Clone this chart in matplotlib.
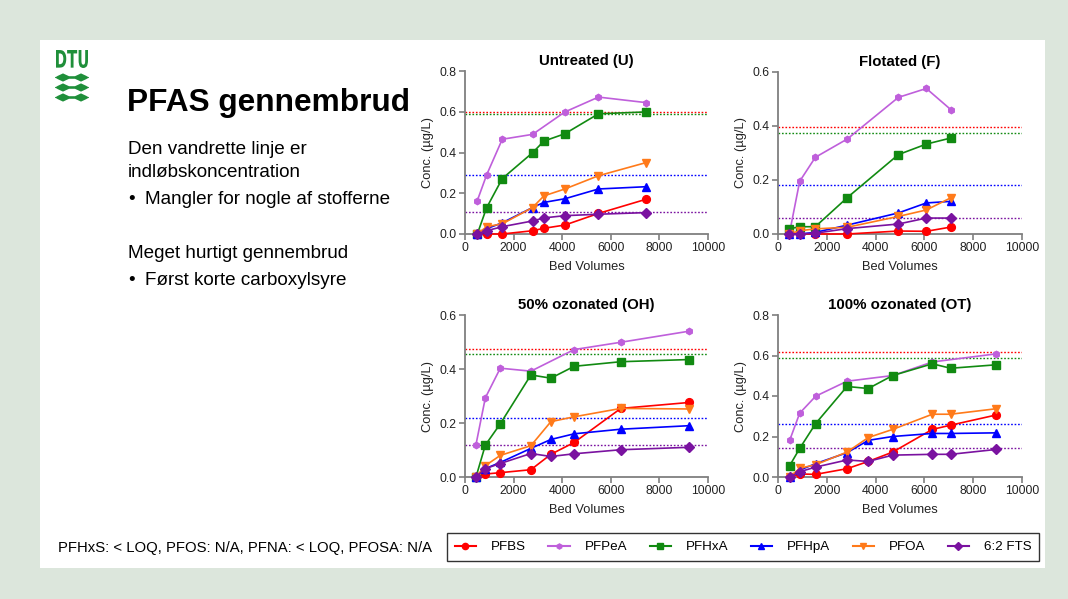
import numpy as np
import matplotlib
matplotlib.use("Agg")
import matplotlib.pyplot as plt
from matplotlib.patches import Rectangle, Polygon, PathPatch
from matplotlib.textpath import TextPath
from matplotlib.font_manager import FontProperties
from matplotlib.transforms import Affine2D
from matplotlib.lines import Line2D

plt.rcParams['font.family'] = ['Liberation Sans', 'DejaVu Sans']

# ---- data ----
compounds = ['PFBS', 'PFPeA', 'PFHxA', 'PFHpA', 'PFOA', '6:2 FTS']

# Untreated (U)
u_bv = [507, 890, 1534, 2781, 3247, 4110, 5493, 7438]
u_pfbs = [0, 0, 0, 0.016, 0.028, 0.044, 0.101, 0.17]
u_pfpea = [0.164, 0.29, 0.465, 0.489, None, 0.599, 0.672, 0.645]
u_pfhxa = [0, 0.129, 0.272, 0.399, 0.456, 0.492, 0.59, 0.599]
u_pfhpa = [0, 0.026, 0.055, 0.13, 0.155, 0.173, 0.221, 0.232]
u_pfoa = [0, 0.036, 0.05, 0.13, 0.187, 0.221, 0.286, 0.35]
u_fts = [0, 0.016, 0.036, 0.064, 0.079, 0.09, 0.097, 0.105]
u_inlet = [0.6, None, 0.587, 0.29, None, 0.11]

# Flotated (F)
f_bv = [464, 888, 1530, 2842, 4932, 6079, 7104]
f_pfbs = [0, 0, 0, 0, 0.011, 0.01, 0.026]
f_pfpea = [0, 0.195, 0.284, 0.352, 0.506, 0.539, 0.459]
f_pfhxa = [0.019, 0.027, 0.027, 0.135, 0.294, 0.333, 0.356]
f_pfhpa = [0, 0, 0.006, 0.033, 0.078, 0.115, 0.121]
f_pfoa = [0, 0.012, 0.019, 0.025, 0.065, 0.089, 0.135]
f_fts = [0, 0, 0.003, 0.02, 0.037, 0.059, 0.059]
f_inlet = [0.395, None, 0.373, 0.183, None, 0.06]

# 50% ozonated (OH)
oh_bv = [452, 836, 1452, 2712, 3534, 4493, 6411, 9219]
oh_pfbs = [0, 0.011, 0.016, 0.027, 0.084, 0.128, 0.254, 0.276]
oh_pfpea = [0.12, 0.293, 0.403, 0.392, None, 0.472, 0.499, 0.54]
oh_pfhxa = [0, 0.118, 0.197, 0.378, 0.366, 0.41, 0.427, 0.435]
oh_pfhpa = [0, 0.031, 0.054, 0.106, 0.139, 0.16, 0.177, 0.19]
oh_pfoa = [0, 0.042, 0.08, 0.116, 0.205, 0.223, 0.254, 0.252]
oh_fts = [0, 0.031, 0.05, 0.087, 0.076, 0.086, 0.101, 0.11]
oh_inlet = [0.475, None, 0.455, 0.218, None, 0.12]

# 100% ozonated (OT)
ot_bv = [478, 888, 1544, 2828, 3702, 4699, 6325, 7077, 8934]
ot_pfbs = [0, 0.015, 0.013, 0.041, 0.077, 0.123, 0.235, 0.256, 0.306]
ot_pfpea = [0.181, 0.315, 0.399, 0.473, None, 0.501, 0.568, None, 0.608]
ot_pfhxa = [0.056, 0.141, 0.264, 0.447, 0.437, 0.501, 0.559, 0.537, 0.554]
ot_pfhpa = [0, 0.034, 0.066, 0.12, 0.181, 0.2, 0.215, 0.215, 0.218]
ot_pfoa = [0, 0.043, 0.061, 0.123, 0.195, 0.235, 0.31, 0.31, 0.337]
ot_fts = [0, 0.026, 0.049, 0.084, 0.077, 0.108, 0.112, 0.112, 0.136]
ot_inlet = [0.615, None, 0.59, 0.262, None, 0.142]

colors = ['#ff0000', '#bf5fdb', '#118a11', '#0000ff', '#ff7a1a', '#7a12a0']
markers = ['o', 'h', 's', '^', 'v', 'D']
msizes = [5.6, 4.6, 5.2, 5.4, 5.4, 4.8]

W, H = 1068, 599
fig = plt.figure(figsize=(W / 100, H / 100), dpi=100, facecolor='#dce6dc')

# overlay in pixel coordinates (y downwards)
ov = fig.add_axes([0, 0, 1, 1], zorder=0)
ov.set_xlim(0, W)
ov.set_ylim(H, 0)
ov.axis('off')
ov.add_patch(Rectangle((40, 40), 1005, 528, facecolor='white', edgecolor='none'))

# DTU logo
dtu_green = '#1f8f3a'
tp = TextPath((0, 0), 'DTU', size=10, prop=FontProperties(family='DejaVu Sans', weight='bold'))
bb = tp.get_extents()
sx = 32 / bb.width
sy = 18 / bb.height
tr = Affine2D().translate(-bb.x0, -bb.y0).scale(sx, -sy).translate(56, 68)
ov.add_patch(PathPatch(tr.transform_path(tp), facecolor=dtu_green, edgecolor='none'))
xs = np.linspace(55, 89, 120)
for yc in [77.5, 87.5, 97.5]:
    prof = 1.3 + 2.8 * np.maximum(0, 1 - np.abs(xs - 63) / 6) + 2.8 * np.maximum(0, 1 - np.abs(xs - 81) / 6)
    prof = prof * np.minimum(1, (np.minimum(xs - 55, 89 - xs) + 0.6) / 3)
    pts = np.concatenate([np.column_stack([xs, yc - prof]), np.column_stack([xs[::-1], yc + prof[::-1]])])
    ov.add_patch(Polygon(pts, closed=True, facecolor=dtu_green, edgecolor='none'))

# slide text
ov.text(127, 111, 'PFAS gennembrud', fontsize=22.8, fontweight='bold', va='baseline', color='black')
ov.text(128, 154, 'Den vandrette linje er', fontsize=13.6, va='baseline')
ov.text(128, 177, 'indløbskoncentration', fontsize=13.6, va='baseline')
ov.text(128, 204, '•', fontsize=13.6, va='baseline')
ov.text(145, 204, 'Mangler for nogle af stofferne', fontsize=13.6, va='baseline')
ov.text(128, 258, 'Meget hurtigt gennembrud', fontsize=13.6, va='baseline')
ov.text(128, 285, '•', fontsize=13.6, va='baseline')
ov.text(145, 285, 'Først korte carboxylsyre', fontsize=13.6, va='baseline')
ov.text(58, 548, 'PFHxS: < LOQ, PFOS: N/A, PFNA: < LOQ, PFOSA: N/A', fontsize=10.7, va='center')

panels = [
    ('Untreated (U)', u_bv, [u_pfbs, u_pfpea, u_pfhxa, u_pfhpa, u_pfoa, u_fts], u_inlet, 0.8, (465, 708, 71, 234)),
    ('Flotated (F)', f_bv, [f_pfbs, f_pfpea, f_pfhxa, f_pfhpa, f_pfoa, f_fts], f_inlet, 0.6, (778, 1022, 72, 234)),
    ('50% ozonated (OH)', oh_bv, [oh_pfbs, oh_pfpea, oh_pfhxa, oh_pfhpa, oh_pfoa, oh_fts], oh_inlet, 0.6, (465, 708, 315, 477)),
    ('100% ozonated (OT)', ot_bv, [ot_pfbs, ot_pfpea, ot_pfhxa, ot_pfhpa, ot_pfoa, ot_fts], ot_inlet, 0.8, (778, 1022, 315, 477)),
]

axis_grey = '#7f7f7f'
for title, bv, series, inlet, ymax, (x0, x1, yt, yb) in panels:
    ax = fig.add_axes([x0 / W, 1 - yb / H, (x1 - x0) / W, (yb - yt) / H], zorder=2)
    ax.patch.set_alpha(0)
    for val, c in zip(inlet, colors):
        if val is not None:
            ax.axhline(val, color=c, ls=(0, (1.2, 1.3)), lw=1.0, zorder=1)
    for ys, c, m, ms in zip(series, colors, markers, msizes):
        pts = [(x, y) for x, y in zip(bv, ys) if y is not None]
        px = [p[0] for p in pts]
        py = [p[1] for p in pts]
        ax.plot(px, py, color=c, marker=m, ms=ms, lw=1.2, clip_on=False, zorder=3)
    ax.set_xlim(0, 10000)
    ax.set_ylim(0, ymax)
    ax.set_xticks(np.arange(0, 10001, 2000))
    ax.set_yticks(np.arange(0, ymax + 0.001, 0.2))
    ax.yaxis.set_major_formatter(matplotlib.ticker.FormatStrFormatter('%.1f'))
    for s in ['top', 'right']:
        ax.spines[s].set_visible(False)
    for s in ['left', 'bottom']:
        ax.spines[s].set_color(axis_grey)
        ax.spines[s].set_linewidth(1.3)
    ax.tick_params(colors=axis_grey, labelcolor='#222222', labelsize=8.8, length=4, width=1.2, pad=2)
    ax.set_title(title, fontsize=10.8, fontweight='bold', pad=4)
    ax.set_xlabel('Bed Volumes', fontsize=9.3, color='#222222', labelpad=5)
    ax.set_ylabel('Conc. (µg/L)', fontsize=9.3, color='#222222', labelpad=4)

handles = [Line2D([], [], color=c, marker=m, ms=ms * 0.8, lw=1.5) for c, m, ms in zip(colors, markers, msizes)]
leg = fig.legend(handles, compounds, ncol=6, loc='center',
                 bbox_to_anchor=(743 / W, 1 - 547 / H), fontsize=9.6, frameon=True,
                 fancybox=False, edgecolor='black', handlelength=1.6, handletextpad=1.1,
                 columnspacing=1.7, borderpad=0.6)
leg.get_frame().set_linewidth(1.0)

fig.savefig('out.png', dpi=100, facecolor=fig.get_facecolor())
